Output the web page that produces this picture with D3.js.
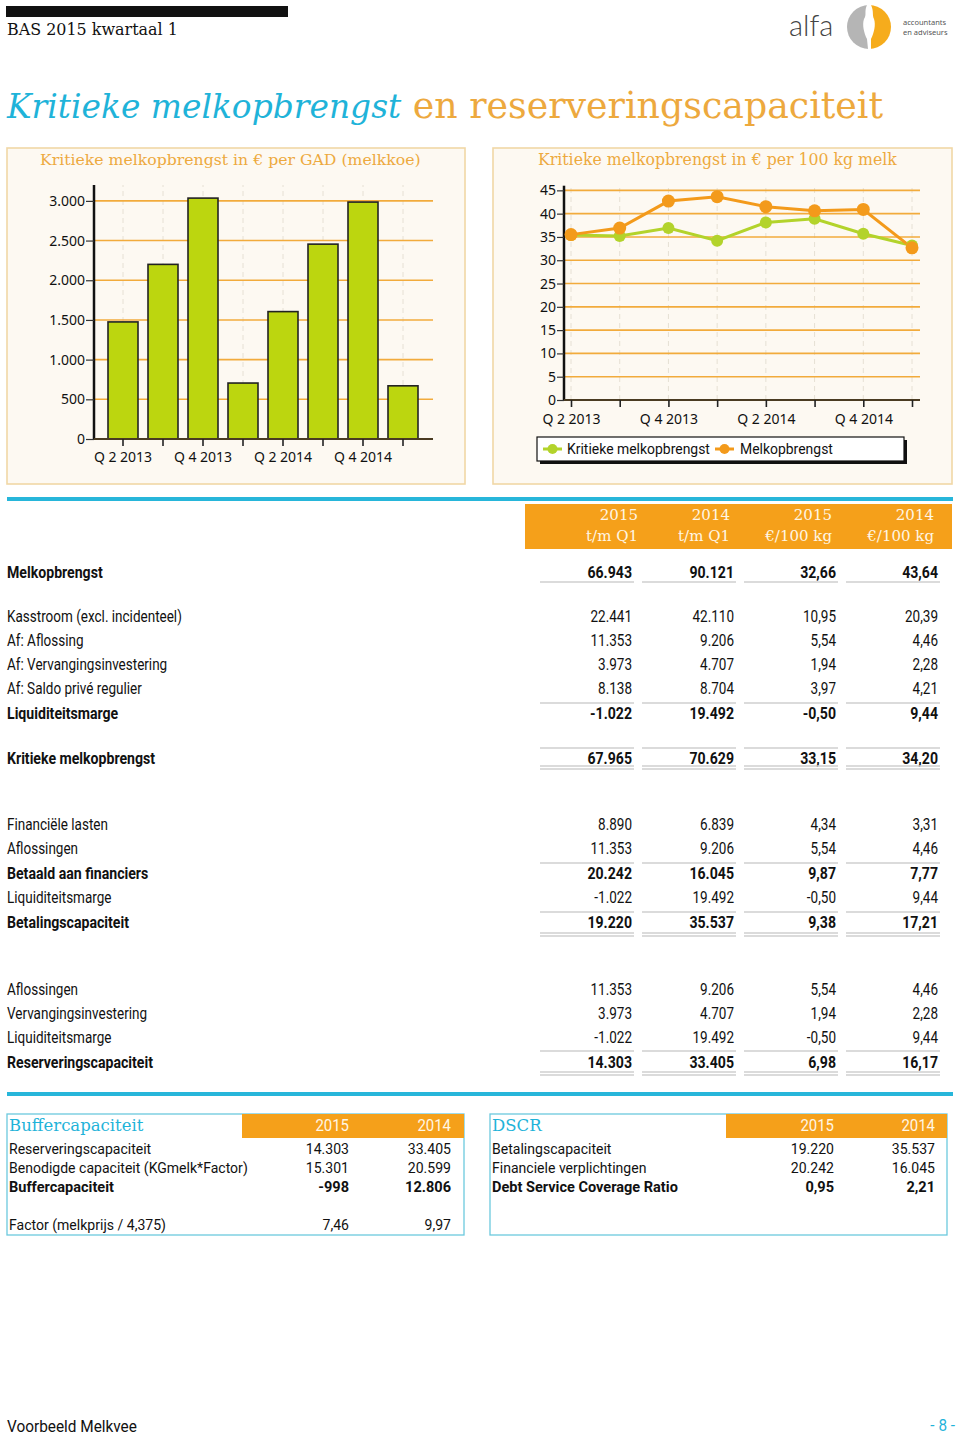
<!DOCTYPE html>
<html>
<head>
<meta charset="utf-8">
<script src="https://cdn.jsdelivr.net/npm/d3@7"></script>
<style>
  html, body { margin: 0; padding: 0; background: #ffffff; }
  svg { display: block; }
</style>
</head>
<body>
<svg id="page" width="960" height="1436"></svg>
<script>
// ---------- DATA ----------
const quarters = ["Q 2 2013", "Q 3 2013", "Q 4 2013", "Q 1 2014", "Q 2 2014", "Q 3 2014", "Q 4 2014", "Q 1 2015"];
const kritiekePerGAD = [1475, 2200, 3035, 705, 1605, 2455, 2985, 670];
const kritiekePer100kg = [35.4, 35.2, 36.9, 34.2, 38.1, 38.9, 35.7, 33.15];
const melkPer100kg = [35.5, 36.9, 42.7, 43.64, 41.5, 40.6, 40.9, 32.66];
const barTicks = [0, 500, 1000, 1500, 2000, 2500, 3000];
const lineTicks = [0, 5, 10, 15, 20, 25, 30, 35, 40, 45];
const seriesNames = ["Kritieke melkopbrengst", "Melkopbrengst"];

const headerTop = ["2015", "2014", "2015", "2014"];
const headerBottom = ["t/m Q1", "t/m Q1", "€/100 kg", "€/100 kg"];
const rowLabels = ["Melkopbrengst", "Kasstroom (excl. incidenteel)", "Af: Aflossing", "Af: Vervangingsinvestering",
  "Af: Saldo privé regulier", "Liquiditeitsmarge", "Kritieke melkopbrengst", "Financiële lasten", "Aflossingen",
  "Betaald aan financiers", "Liquiditeitsmarge", "Betalingscapaciteit", "Aflossingen", "Vervangingsinvestering",
  "Liquiditeitsmarge", "Reserveringscapaciteit"];
const vals2015 = ["66.943", "22.441", "11.353", "3.973", "8.138", "-1.022", "67.965", "8.890", "11.353", "20.242", "-1.022", "19.220", "11.353", "3.973", "-1.022", "14.303"];
const vals2014 = ["90.121", "42.110", "9.206", "4.707", "8.704", "19.492", "70.629", "6.839", "9.206", "16.045", "19.492", "35.537", "9.206", "4.707", "19.492", "33.405"];
const valsKg2015 = ["32,66", "10,95", "5,54", "1,94", "3,97", "-0,50", "33,15", "4,34", "5,54", "9,87", "-0,50", "9,38", "5,54", "1,94", "-0,50", "6,98"];
const valsKg2014 = ["43,64", "20,39", "4,46", "2,28", "4,21", "9,44", "34,20", "3,31", "4,46", "7,77", "9,44", "17,21", "4,46", "2,28", "9,44", "16,17"];
const boldIndex = [0, 5, 6, 9, 11, 15];

const bufferYears = ["2015", "2014"];
const bufferLabels = ["Reserveringscapaciteit", "Benodigde capaciteit (KGmelk*Factor)", "Buffercapaciteit", "Factor (melkprijs / 4,375)"];
const buffer2015 = ["14.303", "15.301", "-998", "7,46"];
const buffer2014 = ["33.405", "20.599", "12.806", "9,97"];
const dscrLabels = ["Betalingscapaciteit", "Financiele verplichtingen", "Debt Service Coverage Ratio"];
const dscr2015 = ["19.220", "20.242", "0,95"];
const dscr2014 = ["35.537", "16.045", "2,21"];

// ---------- STYLE ----------
const SERIF = "'DejaVu Serif', serif";
const BODY = "Roboto, 'Noto Sans', sans-serif";
const SANS = "'Noto Sans', 'Open Sans', sans-serif";
const CYAN = "#1fb3d9";
const ORANGE = "#f5a01a";
const TITLE_OR = "#eda93e";
const GREEN = "#bcd60f";
const LGREEN = "#b3d32b";
const LORANGE = "#f39a1b";
const GRID_OR = "#f2ab3c";

const nl = d3.formatLocale({ decimal: ",", thousands: ".", grouping: [3], currency: ["€", ""] });
const fmtThousands = nl.format(",d");

const svg = d3.select("#page");
svg.append("rect").attr("width", 960).attr("height", 1436).attr("fill", "#fff");

function measure(str, family, size, weight, style) {
  const t = svg.append("text").attr("font-family", family).attr("font-size", size)
    .attr("font-weight", weight || 400).attr("font-style", style || "normal").text(str);
  const w = t.node().getComputedTextLength();
  t.remove();
  return w;
}
function ctext(parent, x, y, str, o) {
  return parent.append("text")
    .attr("transform", `translate(${x},${y}) scale(${o.sx},1)`)
    .attr("dy", "0.36em")
    .attr("text-anchor", o.anchor || "start")
    .attr("font-family", o.family || BODY).attr("font-size", o.size)
    .attr("font-weight", o.bold ? 700 : 400).attr("fill", o.fill || "#111").text(str);
}
const sxReg = 175 / measure("Kasstroom (excl. incidenteel)", BODY, 16, 400);
const sxBold = 146 / measure("Reserveringscapaciteit", BODY, 16, 700);
const sxBox = 239 / measure("Benodigde capaciteit (KGmelk*Factor)", BODY, 15.5, 400);
const sxBoxBold = 186 / measure("Debt Service Coverage Ratio", BODY, 15.5, 700);
const sxFoot = 130 / measure("Voorbeeld Melkvee", BODY, 16, 400);
const sxLeg = 143 / measure("Kritieke melkopbrengst", BODY, 14.5, 400);

// ---------- HEADER ----------
svg.append("rect").attr("x", 6).attr("y", 6).attr("width", 282).attr("height", 11).attr("fill", "#111");
svg.append("text").attr("x", 7).attr("y", 35).attr("font-family", SERIF)
  .attr("font-size", 15.5 * 171 / measure("BAS 2015 kwartaal 1", SERIF, 15.5))
  .attr("fill", "#111").text("BAS 2015 kwartaal 1");

const logo = svg.append("g");
logo.append("text").attr("x", 789).attr("y", 36).attr("font-family", "'Lato', 'Open Sans', sans-serif")
  .attr("font-weight", 300).attr("font-size", 29).attr("fill", "#444").text("alfa");
const cx = 869, cy = 27, r = 22;
logo.append("path").attr("d", `M${cx},${cy - r} A${r},${r} 0 0,0 ${cx},${cy + r} Z`).attr("fill", "#b5b5b5");
logo.append("path").attr("d", `M${cx},${cy - r} A${r},${r} 0 0,1 ${cx},${cy + r} Z`).attr("fill", "#f6ac1c");
logo.append("path").attr("d",
  `M${cx - 2},${cy - r} C${cx - 5},${cy - 16} ${cx - 2},${cy - 12} ${cx - 5},${cy - 8}
   C${cx - 7},${cy - 2} ${cx - 5},${cy + 6} ${cx - 2},${cy + 12} L${cx - 1},${cy + r}
   L${cx + 2},${cy + r} L${cx + 2},${cy + 12} C${cx + 5},${cy + 6} ${cx + 7},${cy - 2} ${cx + 5},${cy - 8}
   C${cx + 3},${cy - 12} ${cx + 5},${cy - 16} ${cx + 2},${cy - r} Z`).attr("fill", "#fff");
logo.append("text").attr("x", 903).attr("y", 25).attr("font-family", SANS).attr("font-size", 7.5)
  .attr("fill", "#555").text("accountants");
logo.append("text").attr("x", 903).attr("y", 35).attr("font-family", SANS).attr("font-size", 7.5)
  .attr("fill", "#555").text("en adviseurs");

{
  const p1 = "Kritieke melkopbrengst", p2 = " en reserveringscapaciteit";
  const s1 = 32 * 399 / measure(p1, SERIF, 32, 400, "italic");
  const s2 = 32 * 476 / measure(p2, SERIF, 32, 400);
  const title = svg.append("text").attr("x", 7).attr("y", 118).attr("font-family", SERIF);
  title.append("tspan").attr("fill", CYAN).attr("font-style", "italic").attr("font-size", s1).text(p1);
  title.append("tspan").attr("fill", TITLE_OR).attr("font-size", s2).text(p2);
  const w = title.node().getComputedTextLength();
  const k = 876 / w;
  title.selectAll("tspan").attr("font-size", function () { return +d3.select(this).attr("font-size") * k; });
}

// ---------- PANELS ----------
function panel(x, w, label, tx, tw) {
  svg.append("rect").attr("x", x).attr("y", 148).attr("width", w).attr("height", 336)
    .attr("fill", "#fdf9f2").attr("stroke", "#f1d7a6").attr("stroke-width", 1.6);
  svg.append("text").attr("x", tx).attr("y", 165).attr("font-family", SERIF)
    .attr("font-size", 14.5 * tw / measure(label, SERIF, 14.5))
    .attr("fill", TITLE_OR).text(label);
}
panel(7, 458, "Kritieke melkopbrengst in € per GAD (melkkoe)", 40, 381);
panel(493, 459, "Kritieke melkopbrengst in € per 100 kg melk", 538, 359);

// ---------- BAR CHART ----------
{
  const x = d3.scaleBand().domain(quarters).range([103, 423]).paddingInner(0.25).paddingOuter(0.125);
  const y = d3.scaleLinear().domain([0, 3200]).range([439, 185]);
  const g = svg.append("g");
  g.selectAll(".vg").data(quarters).join("line")
    .attr("x1", d => x(d) + x.bandwidth() / 2).attr("x2", d => x(d) + x.bandwidth() / 2)
    .attr("y1", y(0)).attr("y2", y(3200)).attr("stroke", "#e6e0d4").attr("stroke-dasharray", "5,4").attr("stroke-width", 1);
  g.selectAll(".hg").data(barTicks.slice(1)).join("line")
    .attr("x1", 94).attr("x2", 433).attr("y1", d => y(d)).attr("y2", d => y(d))
    .attr("stroke", GRID_OR).attr("stroke-width", 1.6);
  g.selectAll(".bar").data(kritiekePerGAD).join("rect")
    .attr("x", (d, i) => x(quarters[i])).attr("width", x.bandwidth())
    .attr("y", d => y(d)).attr("height", d => y(0) - y(d))
    .attr("fill", GREEN).attr("stroke", "#222").attr("stroke-width", 1.6);
  const ya = g.append("g").attr("transform", "translate(94,0)")
    .call(d3.axisLeft(y).tickValues(barTicks).tickSize(8).tickPadding(1).tickFormat(fmtThousands));
  ya.select(".domain").attr("stroke", "#111").attr("stroke-width", 2.5).attr("d", `M0,${y(3200)}V${y(0) + 1}`);
  ya.selectAll(".tick line").attr("stroke", "#333").attr("stroke-width", 1.2);
  ya.selectAll(".tick text").attr("font-family", SANS).attr("font-size", 14).attr("fill", "#111");
  const xa = g.append("g").attr("transform", `translate(0,${y(0)})`)
    .call(d3.axisBottom(x).tickSize(7).tickPadding(6).tickFormat((d, i) => i % 2 === 0 ? d : ""));
  xa.select(".domain").attr("stroke", "#4a3b22").attr("stroke-width", 2).attr("d", "M94,0H433");
  xa.selectAll(".tick line").attr("stroke", "#222").attr("stroke-width", 1.6);
  xa.selectAll(".tick text").attr("font-family", SANS).attr("font-size", 14).attr("fill", "#111");
}

// ---------- LINE CHART ----------
{
  const x = d3.scalePoint().domain(quarters).range([571, 912]);
  const y = d3.scaleLinear().domain([0, 46]).range([400, 185.7]);
  const g = svg.append("g");
  g.selectAll(".vg").data(quarters).join("line")
    .attr("x1", d => x(d)).attr("x2", d => x(d)).attr("y1", y(0)).attr("y2", y(46))
    .attr("stroke", "#e6e0d4").attr("stroke-dasharray", "5,4").attr("stroke-width", 1);
  g.selectAll(".hg").data(lineTicks.slice(1)).join("line")
    .attr("x1", 564).attr("x2", 920).attr("y1", d => y(d)).attr("y2", d => y(d))
    .attr("stroke", GRID_OR).attr("stroke-width", 1.6);
  const ya = g.append("g").attr("transform", "translate(564,0)")
    .call(d3.axisLeft(y).tickValues(lineTicks).tickSize(7).tickPadding(1));
  ya.select(".domain").attr("stroke", "#111").attr("stroke-width", 2.5).attr("d", `M0,${y(46)}V${y(0) + 1}`);
  ya.selectAll(".tick line").attr("stroke", "#333").attr("stroke-width", 1.2);
  ya.selectAll(".tick text").attr("font-family", SANS).attr("font-size", 14).attr("fill", "#111");
  const xa = g.append("g").attr("transform", `translate(0,${y(0)})`)
    .call(d3.axisBottom(x).tickSize(7).tickPadding(7).tickFormat((d, i) => i % 2 === 0 ? d : ""));
  xa.select(".domain").attr("stroke", "#4a3b22").attr("stroke-width", 2).attr("d", "M564,0H920");
  xa.selectAll(".tick line").attr("stroke", "#222").attr("stroke-width", 1.6);
  xa.selectAll(".tick text").attr("font-family", SANS).attr("font-size", 14).attr("fill", "#111");

  const line = d3.line().x((d, i) => x(quarters[i])).y(d => y(d));
  const series = [
    { vals: kritiekePer100kg, color: LGREEN, r: 6 },
    { vals: melkPer100kg, color: LORANGE, r: 6.5 }
  ];
  series.forEach(s => {
    g.append("path").attr("d", line(s.vals)).attr("fill", "none").attr("stroke", s.color).attr("stroke-width", 3);
  });
  series.forEach(s => {
    g.selectAll(null).data(s.vals).join("circle")
      .attr("cx", (d, i) => x(quarters[i])).attr("cy", d => y(d)).attr("r", s.r).attr("fill", s.color);
  });

  const lg = svg.append("g");
  lg.append("rect").attr("x", 540).attr("y", 440).attr("width", 367).attr("height", 24).attr("fill", "#111");
  lg.append("rect").attr("x", 537).attr("y", 437).attr("width", 367).attr("height", 24)
    .attr("fill", "#fff").attr("stroke", "#111").attr("stroke-width", 1.2);
  const items = [
    { name: seriesNames[0], color: LGREEN, x0: 543, tx: 567 },
    { name: seriesNames[1], color: LORANGE, x0: 715, tx: 740 }
  ];
  items.forEach(it => {
    lg.append("line").attr("x1", it.x0).attr("x2", it.x0 + 19).attr("y1", 449).attr("y2", 449)
      .attr("stroke", it.color).attr("stroke-width", 3);
    lg.append("circle").attr("cx", it.x0 + 9.5).attr("cy", 449).attr("r", 5).attr("fill", it.color);
    ctext(lg, it.tx, 449, it.name, { sx: sxLeg, size: 14.5 });
  });
}

// ---------- MAIN TABLE ----------
svg.append("rect").attr("x", 7).attr("y", 497).attr("width", 946).attr("height", 4).attr("fill", "#27b6da");
svg.append("rect").attr("x", 525).attr("y", 504).attr("width", 427).attr("height", 45).attr("fill", ORANGE);

const colRight = [632, 734, 836, 938];
const headRight = [638, 730, 832, 934];
headerTop.forEach((t, i) => {
  svg.append("text").attr("x", headRight[i]).attr("y", 520).attr("text-anchor", "end")
    .attr("font-family", SERIF).attr("font-size", 15).attr("fill", "#fff6e4").text(t);
  svg.append("text").attr("x", headRight[i]).attr("y", 541).attr("text-anchor", "end")
    .attr("font-family", SERIF).attr("font-size", 15).attr("fill", "#fff6e4").text(headerBottom[i]);
});

const rowY = [572, 616, 640, 664, 688, 713, 758, 824, 848, 873, 897, 922, 989, 1013, 1037, 1062];
const cols = [vals2015, vals2014, valsKg2015, valsKg2014];
rowLabels.forEach((lab, i) => {
  const bold = boldIndex.includes(i);
  const sx = bold ? sxBold : sxReg;
  ctext(svg, 7, rowY[i], lab, { sx, size: 16, bold });
  cols.forEach((c, j) => {
    ctext(svg, colRight[j], rowY[i], c[i], { sx, size: 16, bold, anchor: "end" });
  });
});

const rules = [[582, false], [703, false], [748, false], [766, true], [863, false], [912, false], [933, true], [1051, false], [1072, true]];
rules.forEach(([yy, dbl]) => {
  colRight.forEach(cr => {
    const x1 = cr - 92, x2 = cr + 2;
    svg.append("line").attr("x1", x1).attr("x2", x2).attr("y1", yy).attr("y2", yy)
      .attr("stroke", "#cfcfcf").attr("stroke-width", 1.6);
    if (dbl) svg.append("line").attr("x1", x1).attr("x2", x2).attr("y1", yy + 3).attr("y2", yy + 3)
      .attr("stroke", "#cfcfcf").attr("stroke-width", 1.6);
  });
});

svg.append("rect").attr("x", 7).attr("y", 1092).attr("width", 946).attr("height", 4).attr("fill", "#27b6da");

// ---------- BOTTOM BOXES ----------
const bandTop = 1114;
function box(x, w, bandX, titleText, labels, c1, c2, valRight, boldIdx, rowsY) {
  svg.append("rect").attr("x", x).attr("y", bandTop).attr("width", w).attr("height", 121)
    .attr("fill", "none").attr("stroke", "#6cc9de").attr("stroke-width", 1.3);
  svg.append("rect").attr("x", bandX).attr("y", bandTop).attr("width", x + w - bandX).attr("height", 24).attr("fill", ORANGE);
  svg.append("text").attr("x", x + 2).attr("y", 1131).attr("font-family", SERIF).attr("font-size", 16.5)
    .attr("fill", CYAN).text(titleText);
  bufferYears.forEach((yr, j) => {
    ctext(svg, valRight[j], 1125, yr, { sx: sxBox, size: 16.5, anchor: "end", fill: "#fff6e4" });
  });
  labels.forEach((lab, i) => {
    const b = i === boldIdx;
    const sx = b ? sxBoxBold : sxBox;
    ctext(svg, x + 2, rowsY[i], lab, { sx, size: 15.5, bold: b });
    [c1, c2].forEach((c, j) => {
      ctext(svg, valRight[j], rowsY[i], c[i], { sx, size: 15.5, bold: b, anchor: "end" });
    });
  });
}
box(7, 457, 242, "Buffercapaciteit", bufferLabels, buffer2015, buffer2014, [349, 451], 2, [1148, 1167, 1186, 1224]);
box(490, 457, 726, "DSCR", dscrLabels, dscr2015, dscr2014, [834, 935], 2, [1148, 1167, 1186]);

// ---------- FOOTER ----------
ctext(svg, 7, 1426, "Voorbeeld Melkvee", { sx: sxFoot, size: 16 });
ctext(svg, 955, 1425, "- 8 -", { sx: 0.9, size: 17, anchor: "end", fill: CYAN });
</script>
</body>
</html>
